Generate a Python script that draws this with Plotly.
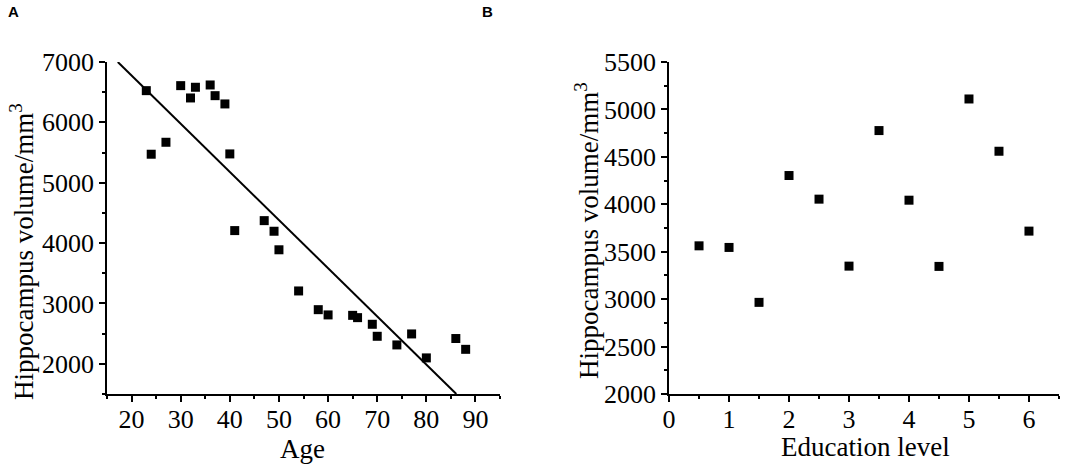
import plotly.graph_objects as go

# panel A: age vs hippocampus volume
age = [23, 24, 27, 30, 32, 33, 36, 37, 39, 40, 41, 47, 49, 50, 54, 58, 60,
       65, 66, 69, 70, 74, 77, 80, 86, 88]
vol_age = [6525, 5472, 5670, 6608, 6404, 6581, 6619, 6442, 6305, 5477, 4207,
           4372, 4196, 3889, 3207, 2897, 2810, 2803, 2765, 2655, 2456, 2313,
           2495, 2098, 2419, 2240]
# fitted line, end points
fit_x = [17.2, 86.1]
fit_y = [7000, 1500]

# panel B: education level vs hippocampus volume
edu = [0.5, 1, 1.5, 2, 2.5, 3, 3.5, 4, 4.5, 5, 5.5, 6]
vol_edu = [3562, 3545, 2966, 4303, 4054, 3348, 4777, 4043, 3345, 5110, 4559, 3717]

serif = "Liberation Serif"
mk = dict(symbol="square", size=9, color="black")

fig = go.Figure()
fig.add_trace(go.Scatter(x=age, y=vol_age, mode="markers", marker=mk,
                         xaxis="x", yaxis="y", cliponaxis=False))
fig.add_trace(go.Scatter(x=fit_x, y=fit_y, mode="lines",
                         line=dict(color="black", width=2),
                         xaxis="x", yaxis="y"))
fig.add_trace(go.Scatter(x=edu, y=vol_edu, mode="markers", marker=mk,
                         xaxis="x2", yaxis="y2", cliponaxis=False))

ax = dict(showline=True, linecolor="black", linewidth=1.5, showgrid=False,
          zeroline=False, automargin=False, ticks="outside", ticklen=6,
          tickwidth=1.5, tickcolor="black",
          tickfont=dict(family=serif, size=26, color="black"))

fig.update_layout(
    template="none",
    width=1084, height=466,
    margin=dict(l=0, r=0, t=0, b=0),
    paper_bgcolor="white", plot_bgcolor="white",
    font=dict(family=serif, color="black"),
    showlegend=False,
    xaxis=dict(ax, domain=[0.0987, 0.4613], range=[15, 95], tick0=0, dtick=10,
               anchor="y", ticklabelstandoff=-5,
               minor=dict(ticks="outside", ticklen=3, dtick=5, tickcolor="black")),
    yaxis=dict(ax, domain=[0.1545, 0.867], range=[1500, 7000], tick0=0, dtick=1000,
               anchor="x",
               minor=dict(ticks="outside", ticklen=3, dtick=500, tickcolor="black")),
    xaxis2=dict(ax, domain=[0.6172, 0.9769], range=[0, 6.5], tick0=0, dtick=1,
                anchor="y2", ticklabelstandoff=-5,
                minor=dict(ticks="outside", ticklen=3, dtick=0.5, tickcolor="black")),
    yaxis2=dict(ax, domain=[0.1545, 0.867], range=[2000, 5500], tick0=0, dtick=500,
                anchor="x2",
                minor=dict(ticks="outside", ticklen=3, dtick=250, tickcolor="black")),
)

tfont = dict(family=serif, size=27, color="black")
labfont = dict(family="Liberation Sans", size=15, color="black")
# annotation positions given in pixels from bottom-left, converted to paper below
notes = [
    dict(text="Hippocampus volume/mm<sup>3</sup>", textangle=-90, x=22, y=214, font=tfont),
    dict(text="Hippocampus volume/mm<sup>3</sup>", textangle=-90, x=587, y=235, font=tfont),
    dict(text="Age", x=302, y=17, font=tfont),
    dict(text="Education level", x=865, y=19, font=tfont),
    dict(text="<b>A</b>", x=13, y=454, font=labfont),
    dict(text="<b>B</b>", x=487, y=454, font=labfont),
]
for n in notes:
    n["x"] = n["x"] / 1084
    n["y"] = n["y"] / 466
    fig.add_annotation(xref="paper", yref="paper", xanchor="center",
                       yanchor="middle", showarrow=False, **n)

# drop the default page margin so the figure sits at the window's corner
fig.write_html("out.html", config={"displayModeBar": False},
               post_script="document.body.style.margin = '0';")
